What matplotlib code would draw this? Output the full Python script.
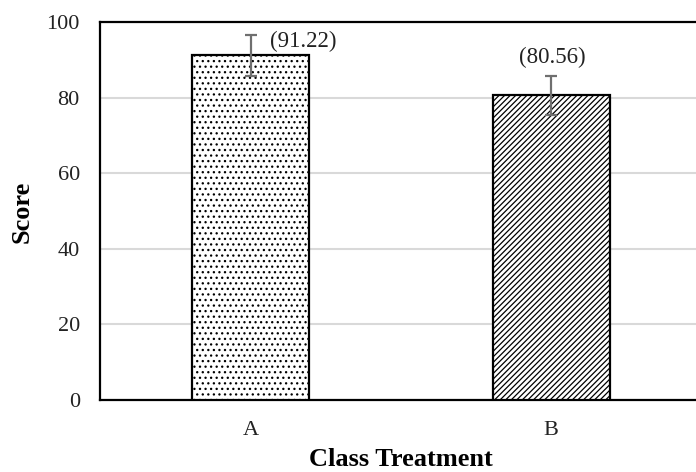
import matplotlib
matplotlib.use("Agg")
import matplotlib.pyplot as plt

categories = ["A", "B"]
scores = [91.22, 80.56]
errors = [5.4, 5.2]
labels = ["(91.22)", "(80.56)"]
hatches = ["...", "//////"]

plt.rcParams['font.family'] = ['Liberation Serif', 'DejaVu Serif']
plt.rcParams['hatch.linewidth'] = 0.9

fig = plt.figure(figsize=(6.96, 4.72), dpi=100)
ax = fig.add_axes([100/696, 72/472, 596/696, 378/472])

x = list(range(len(categories)))
for i in x:
    ax.bar(i, scores[i], width=0.39, color='white', edgecolor='black',
           linewidth=1.6, hatch=hatches[i], zorder=3)
ax.errorbar(x, scores, yerr=errors, fmt='none', ecolor='#6f6f6f',
            elinewidth=1.6, capsize=4.5, capthick=1.6, zorder=4)

ax.annotate(labels[0], (0, scores[0] + errors[0]), xytext=(14, -5),
            textcoords='offset points', ha='left', va='center', fontsize=16.5, color='#222222')
ax.annotate(labels[1], (1, scores[1] + errors[1]), xytext=(1, 13),
            textcoords='offset points', ha='center', va='center', fontsize=16.5, color='#222222')

ax.set_xlim(-0.503, 1.483)
ax.set_ylim(0, 100)
ax.set_yticks([0, 20, 40, 60, 80, 100])
ax.set_xticks(x)
ax.set_xticklabels(categories)
ax.tick_params(axis='both', length=0, labelsize=16, colors='#222222')
ax.tick_params(axis='y', pad=14.5)
ax.tick_params(axis='x', pad=15)
ax.yaxis.grid(True, color='#d9d9d9', linewidth=1.5, zorder=0)
ax.set_axisbelow(True)
for s in ['left', 'bottom', 'top']:
    ax.spines[s].set_linewidth(1.6)
    ax.spines[s].set_color('black')
ax.spines['right'].set_visible(False)

fig.text(22/696, 1 - 212/472, "Score", rotation=90, ha='center', va='center',
         fontsize=19, fontweight='bold')
fig.text(401/696, 1/472, "Class Treatment", ha='center', va='bottom',
         fontsize=19, fontweight='bold')

fig.savefig("out.png", dpi=100)
